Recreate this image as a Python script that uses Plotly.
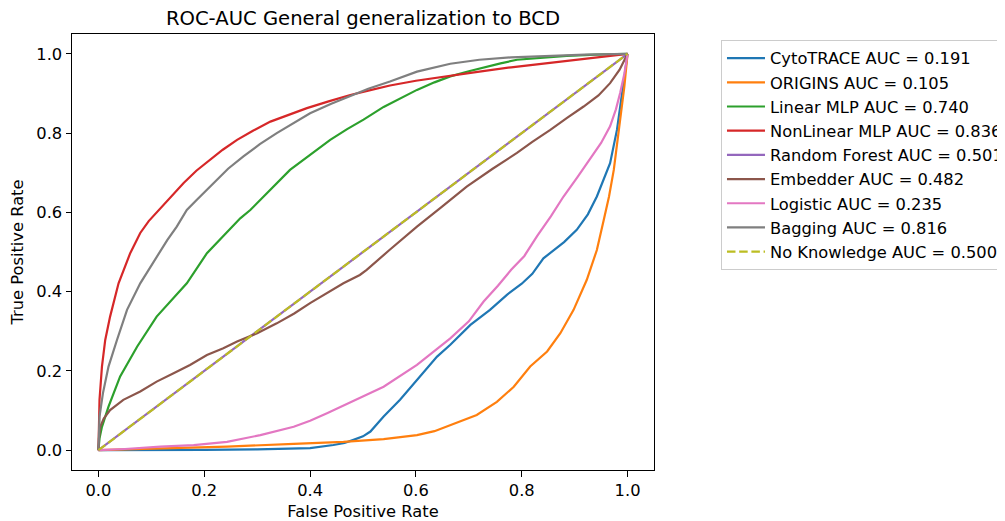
import plotly.graph_objects as go

names = ["CytoTRACE AUC = 0.191", "ORIGINS AUC = 0.105", "Linear MLP AUC = 0.740",
         "NonLinear MLP AUC = 0.836", "Random Forest AUC = 0.501", "Embedder AUC = 0.482",
         "Logistic AUC = 0.235", "Bagging AUC = 0.816", "No Knowledge AUC = 0.500"]
colors = ["#1f77b4", "#ff7f0e", "#2ca02c", "#d62728", "#9467bd", "#8c564b", "#e377c2", "#7f7f7f", "#bcbd22"]

cyto_fpr = [0, 0.1, 0.2, 0.3, 0.35, 0.40, 0.444, 0.465, 0.482, 0.5, 0.514, 0.539, 0.57, 0.602, 0.64, 0.665,
            0.703, 0.74, 0.772, 0.80, 0.82, 0.841, 0.854, 0.88, 0.904, 0.925, 0.942, 0.967, 0.98, 0.989, 0.995, 1.0]
cyto_tpr = [0, 0.0, 0.001, 0.002, 0.003, 0.005, 0.013, 0.018, 0.026, 0.035, 0.047, 0.085, 0.127, 0.177, 0.236, 0.266,
            0.316, 0.354, 0.392, 0.42, 0.445, 0.484, 0.497, 0.525, 0.556, 0.595, 0.64, 0.724, 0.808, 0.892, 0.94, 1.0]

orig_fpr = [0, 0.1, 0.243, 0.369, 0.463, 0.539, 0.602, 0.635, 0.665, 0.715, 0.753, 0.785, 0.816, 0.848, 0.873,
            0.898, 0.923, 0.942, 0.955, 0.965, 0.974, 0.986, 0.994, 1.0]
orig_tpr = [0, 0.003, 0.009, 0.016, 0.021, 0.028, 0.038, 0.048, 0.064, 0.089, 0.122, 0.16, 0.211, 0.249, 0.295,
            0.354, 0.43, 0.505, 0.581, 0.64, 0.707, 0.834, 0.918, 1.0]

lin_fpr = [0, 0.002, 0.0066, 0.019, 0.041, 0.073, 0.11, 0.14, 0.167, 0.205, 0.235, 0.268, 0.287, 0.325, 0.362,
           0.40, 0.438, 0.47, 0.501, 0.539, 0.575, 0.602, 0.635, 0.665, 0.7, 0.728, 0.76, 0.791, 0.84, 0.885, 0.94, 1.0]
lin_tpr = [0, 0.03, 0.059, 0.11, 0.186, 0.261, 0.337, 0.381, 0.421, 0.497, 0.54, 0.585, 0.606, 0.657, 0.707,
           0.745, 0.783, 0.81, 0.834, 0.866, 0.89, 0.909, 0.928, 0.943, 0.956, 0.966, 0.976, 0.985, 0.991, 0.995, 0.998, 1.0]

nonlin_fpr = [0, 0.001, 0.002, 0.0066, 0.0128, 0.022, 0.038, 0.06, 0.079, 0.095, 0.114, 0.1325, 0.161, 0.185, 0.211,
              0.235, 0.262, 0.292, 0.325, 0.36, 0.394, 0.435, 0.476, 0.51, 0.551, 0.6, 0.665, 0.72, 0.78, 0.854, 0.92, 0.97, 1.0]
nonlin_tpr = [0, 0.06, 0.127, 0.211, 0.278, 0.337, 0.421, 0.497, 0.548, 0.578, 0.606, 0.632, 0.674, 0.705, 0.733,
              0.758, 0.783, 0.806, 0.829, 0.846, 0.863, 0.88, 0.896, 0.907, 0.92, 0.932, 0.945, 0.955, 0.966, 0.977, 0.988, 0.995, 1.0]

rf_fpr = [0, 0.25, 0.5, 0.75, 1.0]
rf_tpr = [0, 0.25, 0.5, 0.75, 1.0]

emb_fpr = [0, 0.001, 0.0034, 0.01, 0.022, 0.047, 0.079, 0.11, 0.142, 0.173, 0.205, 0.236, 0.262, 0.3, 0.337, 0.37,
           0.40, 0.43, 0.463, 0.494, 0.507, 0.55, 0.602, 0.65, 0.696, 0.745, 0.791, 0.82, 0.854, 0.885, 0.917, 0.945,
           0.967, 0.985, 1.0]
emb_tpr = [0, 0.03, 0.059, 0.08, 0.101, 0.127, 0.148, 0.173, 0.194, 0.215, 0.24, 0.257, 0.274, 0.295, 0.32, 0.345,
           0.371, 0.395, 0.421, 0.442, 0.455, 0.505, 0.564, 0.615, 0.665, 0.71, 0.75, 0.778, 0.808, 0.838, 0.867, 0.895,
           0.926, 0.96, 1.0]

log_fpr = [0, 0.05, 0.117, 0.18, 0.243, 0.306, 0.369, 0.40, 0.432, 0.476, 0.539, 0.602, 0.665, 0.7, 0.728, 0.755,
           0.78, 0.805, 0.829, 0.855, 0.879, 0.905, 0.929, 0.95, 0.967, 0.978, 0.986, 0.994, 1.0]
log_tpr = [0, 0.003, 0.009, 0.013, 0.021, 0.038, 0.059, 0.074, 0.093, 0.12, 0.16, 0.215, 0.282, 0.325, 0.375, 0.415,
           0.455, 0.49, 0.54, 0.59, 0.64, 0.688, 0.733, 0.775, 0.817, 0.86, 0.901, 0.95, 1.0]

bag_fpr = [0, 0.001, 0.002, 0.0085, 0.019, 0.035, 0.054, 0.079, 0.11, 0.13, 0.148, 0.167, 0.186, 0.218, 0.245, 0.274,
           0.305, 0.337, 0.37, 0.40, 0.44, 0.476, 0.51, 0.551, 0.602, 0.665, 0.72, 0.78, 0.854, 0.92, 1.0]
bag_tpr = [0, 0.04, 0.085, 0.144, 0.211, 0.278, 0.354, 0.421, 0.489, 0.53, 0.564, 0.606, 0.632, 0.674, 0.71, 0.741,
           0.772, 0.8, 0.827, 0.85, 0.874, 0.893, 0.912, 0.93, 0.955, 0.975, 0.985, 0.991, 0.995, 0.998, 1.0]

nk_fpr = [0, 1]
nk_tpr = [0, 1]

series = [(cyto_fpr, cyto_tpr), (orig_fpr, orig_tpr), (lin_fpr, lin_tpr), (nonlin_fpr, nonlin_tpr),
          (rf_fpr, rf_tpr), (emb_fpr, emb_tpr), (log_fpr, log_tpr), (bag_fpr, bag_tpr), (nk_fpr, nk_tpr)]

FONT = "DejaVu Sans"
FS = 16.3
fig = go.Figure()
for i, ((xs, ys), name, col) in enumerate(zip(series, names, colors)):
    dash = "8.5px,3.7px" if i == len(series) - 1 else "solid"
    fig.add_trace(go.Scatter(x=xs, y=ys, mode="lines", name=name, legendgroup=f"g{i}",
                             line=dict(color=col, width=2.2, dash=dash)))

axis_common = dict(showline=True, mirror=True, linecolor="black", linewidth=1,
                   ticks="outside", ticklen=5.5, tickwidth=1, tickcolor="black",
                   showgrid=False, zeroline=False, range=[-0.05, 1.05],
                   tickmode="array", tickvals=[0, 0.2, 0.4, 0.6, 0.8, 1.0],
                   ticktext=["0.0", "0.2", "0.4", "0.6", "0.8", "1.0"],
                   tickfont=dict(family=FONT, size=FS, color="black"))

# page body has an 8px margin, so the figure is offset by (8, 8)
fig.update_layout(
    width=1005, height=521,
    margin=dict(l=63.7, r=359.3, t=26.3, b=59, autoexpand=False),
    paper_bgcolor="white", plot_bgcolor="white",
    font=dict(family=FONT, color="black"),
    title=dict(text="ROC-AUC General generalization to BCD", x=0.5, xref="paper", xanchor="center",
               y=1 - 10.5 / 521, yref="container", yanchor="middle",
               font=dict(family=FONT, size=19.6, color="black")),
    xaxis=dict(**axis_common, title=dict(text="False Positive Rate", standoff=6,
                                         font=dict(family=FONT, size=FS, color="black"))),
    yaxis=dict(**axis_common, title=dict(text="True Positive Rate", standoff=9,
                                         font=dict(family=FONT, size=FS, color="black"))),
    legend=dict(x=1.1151, xanchor="left", y=0.9862, yanchor="top",
                bordercolor="#cccccc", borderwidth=1, bgcolor="white",
                font=dict(family=FONT, size=FS, color="black"),
                tracegroupgap=0, itemwidth=38),
    showlegend=True,
)

fig.write_html("out.html")
